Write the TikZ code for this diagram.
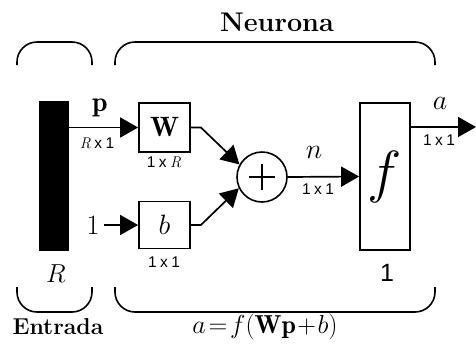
\RequirePackage{fix-cm}
\documentclass[tikz,border=0pt]{standalone}
\usepackage{fontspec}
\newfontfamily\lsans{Liberation Sans}
\usetikzlibrary{arrows.meta}
\begin{document}
\begin{tikzpicture}[x=1pt,y=-1pt,
  line width=1.7pt,
  arr/.style={-{Triangle[length=18pt,width=20pt]}},
  blk/.style={draw,line width=1.8pt,inner sep=0pt},
  big/.style={font=\fontsize{28}{28}\selectfont},
  sm/.style={font=\lsans\fontsize{15.5}{15.5}\selectfont},
  brace/.style={line width=1.6pt,rounded corners=20pt}]
\useasboundingbox (0,0) rectangle (476,346);
% braces
\draw[brace] (17,65) -- (17,42) -- (92,42) -- (92,65);
\draw[brace] (115,65) -- (115,42) -- (435,42) -- (435,65);
\draw[brace] (17,287) -- (17,312) -- (92,312) -- (92,287);
\draw[brace] (115,287) -- (115,312) -- (435,312) -- (435,287);
\node[font=\bfseries\fontsize{27}{27}\selectfont] (neu) at (277,22) {Neurona};
\node[font=\bfseries\fontsize{23}{23}\selectfont] (ent) at (58,327) {Entrada};
\node[font=\fontsize{26}{26}\selectfont] (eq) at (265,327) {$a\!=\!f(\mathbf{W}\mathbf{p}\!+\!b)$};
% blocks
\node[blk,fill=black,minimum width=28pt,minimum height=148pt] (bar) at (54,176) {};
\node[blk,minimum width=51pt,minimum height=49pt,big] (W) at (164.5,127.5) {$\mathbf{W}$};
\node[blk,minimum width=51pt,minimum height=47pt,big] (b) at (164.5,225) {$b$};
\node[draw,circle,line width=1.6pt,minimum size=50pt,inner sep=0pt] (sum) at (262,177) {};
\draw[line width=1.6pt] ([xshift=-13pt]sum.center) -- ([xshift=13pt]sum.center)
  ([yshift=-13pt]sum.center) -- ([yshift=13pt]sum.center);
\node[blk,minimum width=50pt,minimum height=147pt,font=\fontsize{58}{58}\selectfont] (f) at (385,176.5) {$f$};
\node[font=\fontsize{28}{28}\selectfont] (one) at (93,225) {1};
\coordinate (out) at (476,127);
% connectors
\draw[arr] (bar.east |- W.west) -- (W.west);
\draw[arr] (one.east |- b.west) -- (b.west);
\draw[arr] (W.east) -- ++(10,0) -- (sum.151);
\draw[arr] (b.east) -- ++(10,0) -- (sum.206);
\draw[arr] (sum.east) -- (f.west);
\draw[arr] (f.north east |- out) -- (out);
% labels
\node[big] (pl) at (100,108) {$\mathbf{p}$};
\node[sm] (pd) at (97,143) {$\mathit{R}$\hspace{3.5pt}x\hspace{3.5pt}1};
\node[sm] (Wd) at (164,162) {1\hspace{3.5pt}x\hspace{3.5pt}$\mathit{R}$};
\node[sm] (bd) at (164,262) {1\hspace{3.5pt}x\hspace{3.5pt}1};
\node[big] (nl) at (314,152) {$n$};
\node[sm] (nd) at (318,189) {1\hspace{3.5pt}x\hspace{3.5pt}1};
\node[big] (al) at (440,103) {$a$};
\node[sm] (ad) at (439,140) {1\hspace{3.5pt}x\hspace{3.5pt}1};
\node[font=\fontsize{26}{26}\selectfont] (Rl) at (56,274) {$R$};
\node[font=\lsans\fontsize{25}{25}\selectfont] (fl) at (387,273) {1};
\end{tikzpicture}
\end{document}
